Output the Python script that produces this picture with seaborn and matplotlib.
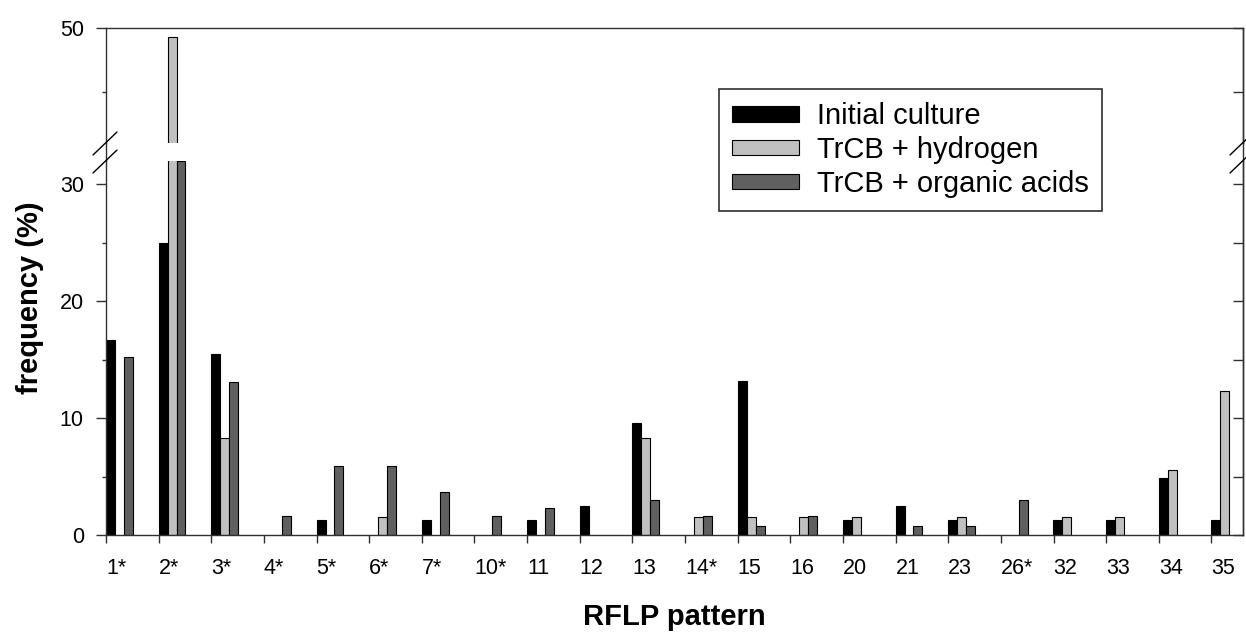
import numpy as np
import pandas as pd
import matplotlib
matplotlib.use("Agg")
import matplotlib.pyplot as plt
import seaborn as sns
from matplotlib.lines import Line2D
from matplotlib.patches import Patch
from matplotlib.ticker import FixedLocator

# ---------------- data ----------------
patterns = ["1*", "2*", "3*", "4*", "5*", "6*", "7*", "10*", "11", "12", "13",
            "14*", "15", "16", "20", "21", "23", "26*", "32", "33", "34", "35"]
initial_culture = [16.7, 25.0, 15.5, 0, 1.3, 0, 1.3, 0, 1.3, 2.5, 9.6,
                   0, 13.2, 0, 1.3, 2.5, 1.3, 0, 1.3, 1.3, 4.9, 1.3]
trcb_hydrogen = [0, 49.3, 8.3, 0, 0, 1.5, 0, 0, 0, 0, 8.3,
                 1.5, 1.5, 1.5, 1.5, 0, 1.5, 0, 1.5, 1.5, 5.6, 12.3]
trcb_organic = [15.2, 32.0, 13.1, 1.6, 5.9, 5.9, 3.7, 1.6, 2.3, 0, 3.0,
                1.6, 0.8, 1.6, 0, 0.8, 0.8, 3.0, 0, 0, 0, 0]
series_names = ["Initial culture", "TrCB + hydrogen", "TrCB + organic acids"]
colors = ["#000000", "#c0c0c0", "#606060"]

rows = []
for name, vals in zip(series_names, [initial_culture, trcb_hydrogen, trcb_organic]):
    for p, v in zip(patterns, vals):
        rows.append({"pattern": p, "series": name, "value": v if v > 0 else np.nan})
df = pd.DataFrame(rows)

# ---------------- style ----------------
sns.set_theme(style="ticks")
plt.rcParams["font.family"] = ["Liberation Sans", "DejaVu Sans"]
plt.rcParams["text.color"] = "black"
plt.rcParams["axes.labelcolor"] = "black"
plt.rcParams["xtick.color"] = "black"
plt.rcParams["ytick.color"] = "black"
axis_col = "#303030"

W, H = 1246, 633
fig = plt.figure(figsize=(W / 100, H / 100), dpi=100)

def fx(px):
    return px / W

def fy(py):
    return 1 - py / H

left_px, right_px = 106, 1243
lo_top, lo_bot = 161, 535
hi_top, hi_bot = 27.7, 143.3

ax_lo = fig.add_axes([fx(left_px), fy(lo_bot), fx(right_px) - fx(left_px), fy(lo_top) - fy(lo_bot)])
ax_hi = fig.add_axes([fx(left_px), fy(hi_bot), fx(right_px) - fx(left_px), fy(hi_top) - fy(hi_bot)])

bar_group_width = 0.51
for ax in (ax_lo, ax_hi):
    sns.barplot(data=df, x="pattern", y="value", hue="series", order=patterns,
                hue_order=series_names, palette=colors, width=bar_group_width,
                dodge=True, edgecolor="black", linewidth=0.8, errorbar=None,
                legend=False, saturation=1, ax=ax)
    ax.set_xlim(-bar_group_width / 2, -bar_group_width / 2 + 21.6)
    ax.set_xlabel("")
    ax.set_ylabel("")
    for s in ax.spines.values():
        s.set_color(axis_col)
        s.set_linewidth(1.0)

ax_lo.set_ylim(0, 32)
ax_hi.set_ylim(41, 50)

# spines for broken axis
ax_lo.spines["top"].set_visible(False)
ax_hi.spines["bottom"].set_visible(False)

# x ticks at category boundaries
edges = np.arange(len(patterns)) - bar_group_width / 2
ax_lo.set_xticks(edges)
ax_lo.set_xticklabels(patterns, ha="left", fontsize=15.5)
ax_lo.tick_params(axis="x", direction="out", length=6, width=1, pad=10.5,
                  color=axis_col, labelcolor="black")
ax_hi.tick_params(axis="x", bottom=False, labelbottom=False)

# y ticks
ax_lo.set_yticks([0, 10, 20, 30])
ax_lo.yaxis.set_minor_locator(FixedLocator([5, 15, 25]))
ax_hi.set_yticks([50])
ax_hi.yaxis.set_minor_locator(FixedLocator([45]))
for ax, maj, mnr in ((ax_lo, [0, 10, 20, 30], [5, 15, 25]), (ax_hi, [50], [45])):
    ax.tick_params(axis="y", which="major", direction="out", length=7, width=1,
                   pad=9, labelsize=15.5, color=axis_col, labelcolor="black")
    ax.tick_params(axis="y", which="minor", direction="out", length=3, width=1, color=axis_col)
    sec = ax.secondary_yaxis("right")
    sec.set_yticks(maj)
    sec.yaxis.set_minor_locator(FixedLocator(mnr))
    sec.tick_params(axis="y", which="both", direction="in", length=7, width=1,
                    labelright=False, color=axis_col)
    sec.spines["right"].set_color(axis_col)
    sec.spines["right"].set_linewidth(1.0)

# spine continuation across the gap + break marks
for xp in (left_px, right_px):
    fig.add_artist(Line2D([fx(xp), fx(xp)], [fy(lo_top), fy(hi_bot)],
                          color=axis_col, lw=1.0, transform=fig.transFigure))
    for y0 in (155, 173):
        fig.add_artist(Line2D([fx(xp - 13), fx(xp + 11)], [fy(y0), fy(y0 - 23)],
                              color="black", lw=1.0, transform=fig.transFigure,
                              clip_on=False))

# legend
handles = [Patch(facecolor=c, edgecolor="black", linewidth=0.8, label=n)
           for c, n in zip(colors, series_names)]
leg = fig.legend(handles=handles, loc="upper left",
                 bbox_to_anchor=(fx(719), fy(89)), bbox_transform=fig.transFigure,
                 frameon=True, fancybox=False, framealpha=1, fontsize=21,
                 handlelength=2.3, handleheight=0.45, handletextpad=0.6,
                 labelspacing=0.2, borderpad=0.45, borderaxespad=0)
leg.get_frame().set_edgecolor(axis_col)
leg.get_frame().set_linewidth(1.2)

# axis titles
fig.text(fx(674), fy(617), "RFLP pattern", ha="center", va="center",
         fontsize=21, fontweight="bold")
fig.text(fx(30), fy(298), "frequency (%)", ha="center", va="center",
         rotation=90, fontsize=21, fontweight="bold")

fig.savefig("out.png", dpi=100)
